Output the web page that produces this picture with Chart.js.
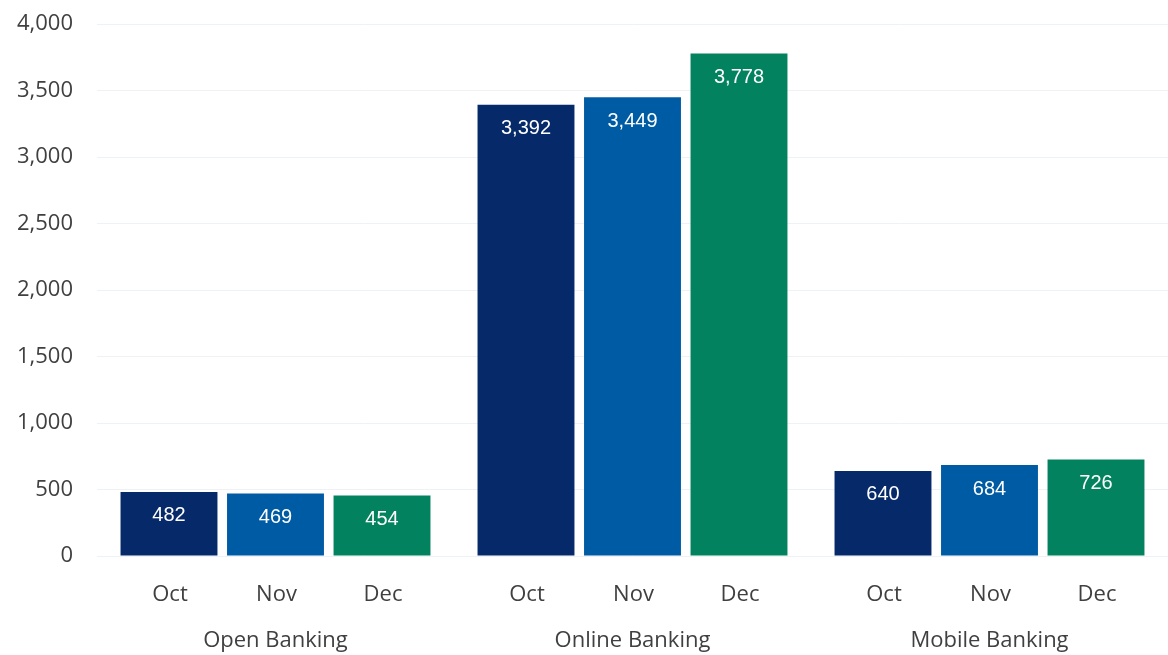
<!DOCTYPE html>
<html>
<head>
<meta charset="utf-8">
<script src="https://cdn.jsdelivr.net/npm/chart.js@4.4.1/dist/chart.umd.min.js"></script>
<style>
  html, body { margin: 0; padding: 0; background: #fff; }
  #wrap { position: relative; width: 1168px; height: 655px; }
</style>
</head>
<body>
<div id="wrap"><canvas id="bar-chart"></canvas></div>
<script>
var groups = ["Open Banking", "Online Banking", "Mobile Banking"];
var months = ["Oct", "Nov", "Dec"];
var octValues = [482, 3392, 640];
var novValues = [469, 3449, 684];
var decValues = [454, 3778, 726];
var monthColors = ["#06296A", "#005BA5", "#03825F"];
var yTicks = [0, 500, 1000, 1500, 2000, 2500, 3000, 3500, 4000];

function fmt(v) {
  return v.toLocaleString("en-US");
}

// white value labels inside the top of each bar, month names under each bar
var barText = {
  id: "barText",
  afterDatasetsDraw: function(chart) {
    var ctx = chart.ctx;
    var bottom = chart.chartArea.bottom;
    ctx.save();
    ctx.textAlign = "center";
    ctx.textBaseline = "middle";
    chart.data.datasets.forEach(function(ds, i) {
      var meta = chart.getDatasetMeta(i);
      meta.data.forEach(function(bar, j) {
        ctx.fillStyle = "#ffffff";
        ctx.font = "20px 'Liberation Sans', Arial, sans-serif";
        ctx.fillText(fmt(ds.data[j]), bar.x, bar.y + 24);
        ctx.fillStyle = "#404040";
        ctx.font = "22px 'Open Sans', sans-serif";
        ctx.fillText(ds.label, bar.x + 1, bottom + 39);
      });
    });
    ctx.restore();
  }
};

new Chart(document.getElementById("bar-chart"), {
  type: "bar",
  data: {
    labels: groups,
    datasets: [
      { label: months[0], data: octValues, backgroundColor: monthColors[0] },
      { label: months[1], data: novValues, backgroundColor: monthColors[1] },
      { label: months[2], data: decValues, backgroundColor: monthColors[2] }
    ]
  },
  options: {
    responsive: true,
    maintainAspectRatio: false,
    animation: false,
    categoryPercentage: 0.895,
    barPercentage: 0.91,
    layout: { autoPadding: false, padding: { top: 24, left: 14, right: 0, bottom: 0 } },
    plugins: {
      legend: { display: false },
      tooltip: { enabled: false }
    },
    scales: {
      x: {
        grid: { display: false, drawTicks: false },
        border: { display: false },
        afterFit: function(axis) { axis.height = 99; },
        ticks: {
          color: "#404040",
          font: { family: "'Open Sans', sans-serif", size: 22 },
          padding: 72
        }
      },
      y: {
        min: 0,
        max: 4000,
        afterBuildTicks: function(axis) {
          axis.ticks = yTicks.map(function(v) { return { value: v }; });
        },
        afterFit: function(axis) {
          axis.width = 83;
          axis.paddingTop = 0;
          axis.paddingBottom = 0;
        },
        grid: { color: "#EEF2F7", lineWidth: 1, drawTicks: false },
        border: { display: false },
        ticks: {
          color: "#404040",
          font: { family: "'Open Sans', sans-serif", size: 22 },
          padding: 24,
          callback: function(v) { return fmt(v); }
        }
      }
    }
  },
  plugins: [barText]
});
</script>
</body>
</html>
